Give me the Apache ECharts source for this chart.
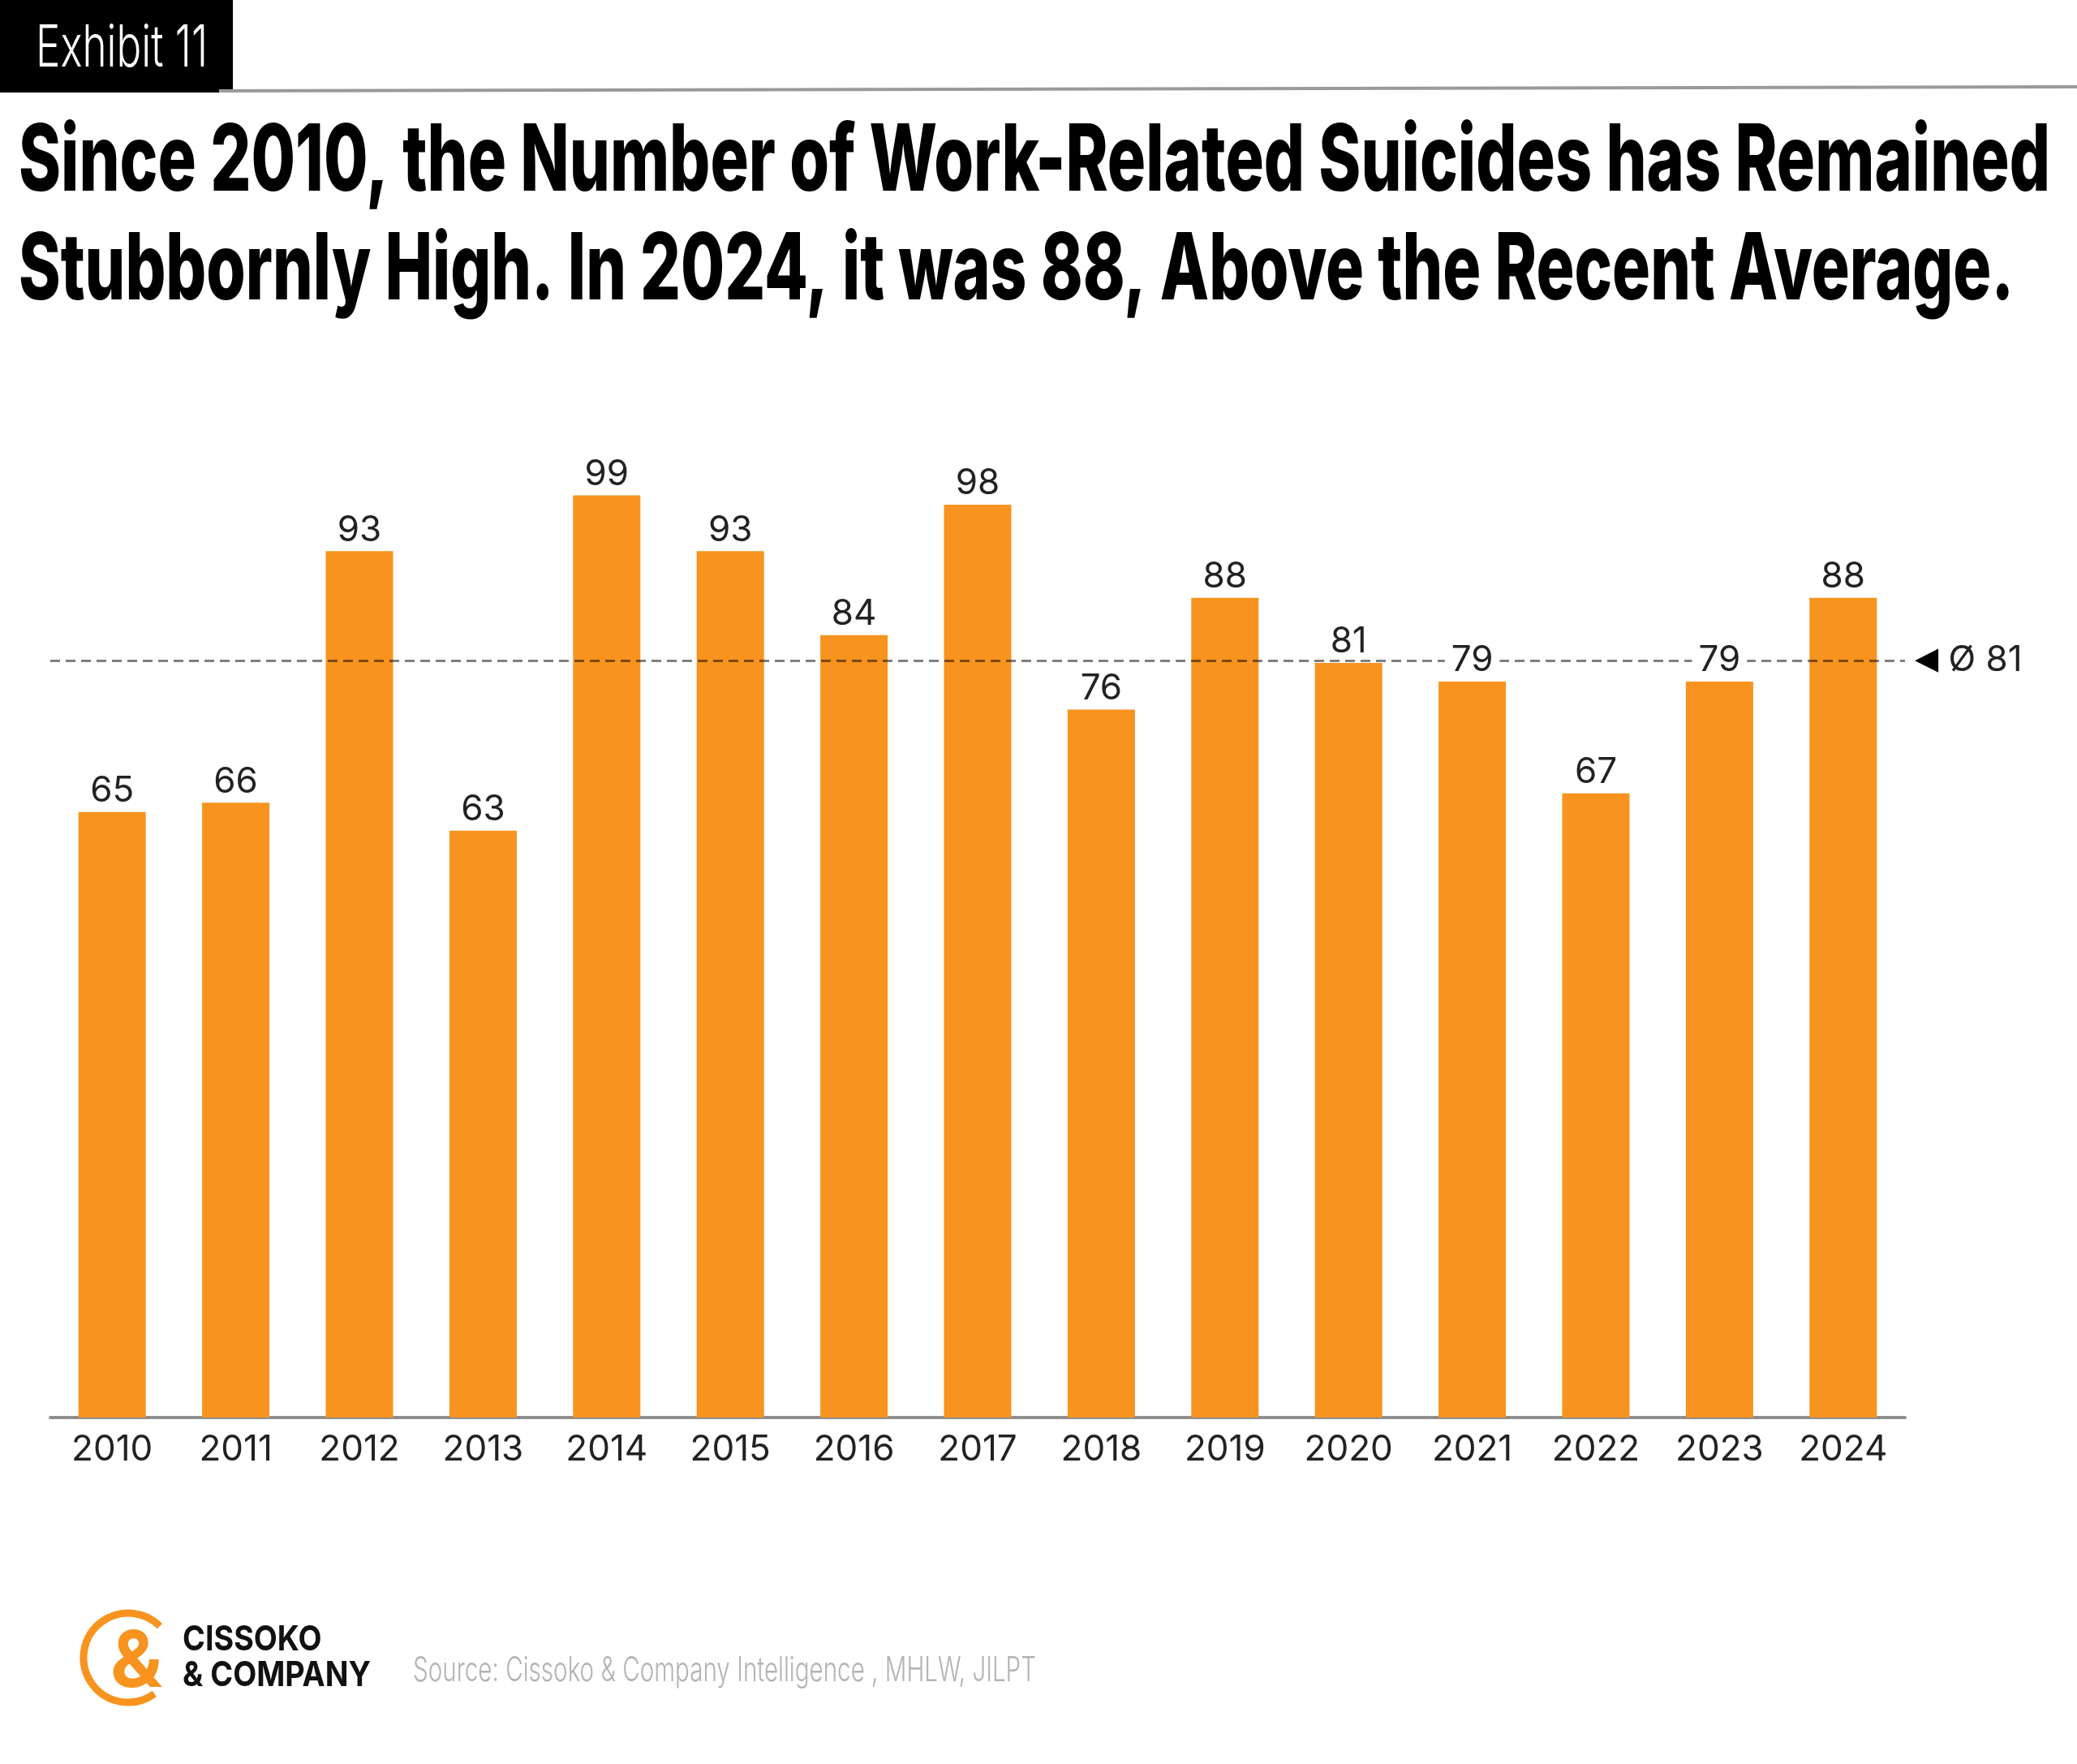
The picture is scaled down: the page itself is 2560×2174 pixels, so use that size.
<!DOCTYPE html>
<html>
<head>
<meta charset="utf-8">
<script src="https://cdn.jsdelivr.net/npm/echarts@6/dist/echarts.min.js"></script>
<style>
  html, body { margin: 0; padding: 0; background: #fff; }
  #main { width: 2560px; height: 2174px; }
</style>
</head>
<body>
<div id="main"></div>
<script>
const years = ['2010', '2011', '2012', '2013', '2014', '2015', '2016', '2017', '2018', '2019', '2020', '2021', '2022', '2023', '2024'];
const suicides = [65, 66, 93, 63, 99, 93, 84, 98, 76, 88, 81, 79, 67, 79, 88];
const avgText = 'Ø 81';

const exhibitText = 'Exhibit 11';
const titleLines = [
  'Since 2010, the Number of Work-Related Suicides has Remained',
  'Stubbornly High. In 2024, it was 88, Above the Recent Average.'
];
const brandLines = ['CISSOKO', '& COMPANY'];
const sourceText = 'Source: Cissoko & Company Intelligence , MHLW, JILPT';

const FONT = 'Inter, "Open Sans", "DejaVu Sans", sans-serif';
const ORANGE = '#F7931E';

// the exhibit uses a condensed face, so squeeze text to its measured width
const ctx = document.createElement('canvas').getContext('2d');
function squeeze(text, weight, size, width) {
  ctx.font = weight + ' ' + size + 'px ' + FONT;
  return width / ctx.measureText(text).width;
}

const titleScale1 = squeeze(titleLines[0], '800', 114, 2504);
const titleScale2 = squeeze(titleLines[1], '800', 114, 2459);
const exhibitScale = squeeze(exhibitText, '300', 72, 212);
const brandScale = squeeze(brandLines[1], 'bold', 43, 232);
const sourceScale = squeeze(sourceText, '300', 42, 768);

const chartDom = document.getElementById('main');
const myChart = echarts.init(chartDom);

const option = {
  animation: false,
  backgroundColor: '#fff',
  grid: { left: 62, right: 212, top: 599, bottom: 427 },
  xAxis: {
    type: 'category',
    data: years,
    axisLine: { lineStyle: { color: '#8f8f8f', width: 4 } },
    axisTick: { show: false },
    axisLabel: { color: '#222', fontSize: 44, fontFamily: FONT, margin: 18 }
  },
  yAxis: {
    type: 'value',
    min: 0,
    max: 100,
    show: false,
    splitLine: { show: false }
  },
  series: [
    {
      type: 'bar',
      data: suicides,
      barWidth: 83,
      itemStyle: { color: ORANGE },
      markLine: {
        silent: true,
        symbol: 'none',
        lineStyle: { type: [12, 7], color: 'rgba(0,0,0,0.5)', width: 3 },
        label: {
          position: 'end',
          distance: 12,
          color: '#222',
          fontSize: 44,
          fontFamily: FONT,
          formatter: '{t|◀} ' + avgText,
          rich: { t: { fontSize: 38, color: '#000', fontFamily: '"DejaVu Sans", sans-serif' } }
        },
        data: [{ type: 'average' }]
      }
    },
    {
      // value labels sit above the average line, white box breaks the dashes
      type: 'bar',
      data: suicides,
      barWidth: 83,
      barGap: '-100%',
      z: 10,
      silent: true,
      itemStyle: { color: 'rgba(0,0,0,0)' },
      label: {
        show: true,
        position: 'top',
        distance: 4,
        color: '#222',
        fontSize: 44,
        fontFamily: FONT,
        backgroundColor: '#fff',
        padding: [0, 8]
      }
    }
  ],
  graphic: [
    { type: 'rect', shape: { x: 0, y: 0, width: 287, height: 114 }, style: { fill: '#000' } },
    { type: 'line', shape: { x1: 270, y1: 112, x2: 2560, y2: 107 }, style: { stroke: '#9a9a9a', lineWidth: 4 } },
    {
      type: 'text', x: 44, y: 60, scaleX: exhibitScale,
      style: { text: exhibitText, fill: '#fff', fontSize: 72, fontWeight: 300, fontFamily: FONT, verticalAlign: 'middle' }
    },
    {
      type: 'text', x: 23, y: 201, scaleX: titleScale1,
      style: { text: titleLines[0], fill: '#000', fontSize: 114, fontWeight: 800, fontFamily: FONT, verticalAlign: 'middle' }
    },
    {
      type: 'text', x: 23, y: 335, scaleX: titleScale2,
      style: { text: titleLines[1], fill: '#000', fontSize: 114, fontWeight: 800, fontFamily: FONT, verticalAlign: 'middle' }
    },
    // logo mark
    {
      type: 'arc', shape: { cx: 158, cy: 2043, r: 55, startAngle: Math.PI * 0.3, endAngle: Math.PI * 1.75, clockwise: true },
      style: { stroke: ORANGE, lineWidth: 9, fill: null }
    },
    {
      type: 'text', x: 168, y: 2050,
      style: { text: '&', fill: ORANGE, fontSize: 96, fontWeight: 'bold', fontFamily: FONT, align: 'center', verticalAlign: 'middle' }
    },
    {
      type: 'text', x: 225, y: 2021, scaleX: brandScale,
      style: { text: brandLines[0], fill: '#111', fontSize: 43, fontWeight: 'bold', fontFamily: FONT, verticalAlign: 'middle' }
    },
    {
      type: 'text', x: 225, y: 2065, scaleX: brandScale,
      style: { text: brandLines[1], fill: '#111', fontSize: 43, fontWeight: 'bold', fontFamily: FONT, verticalAlign: 'middle' }
    },
    {
      type: 'text', x: 509, y: 2059, scaleX: sourceScale,
      style: { text: sourceText, fill: '#b3b3b3', fontSize: 42, fontWeight: 300, fontFamily: FONT, verticalAlign: 'middle' }
    }
  ]
};
option && myChart.setOption(option);
</script>
</body>
</html>
